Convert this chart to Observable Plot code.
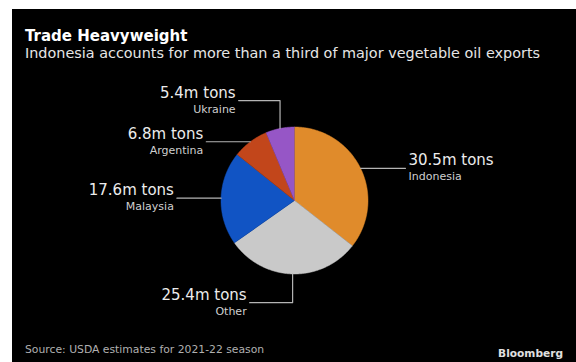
<!DOCTYPE html>
<html><head><meta charset="utf-8">
<script src="https://cdn.jsdelivr.net/npm/d3@7"></script>
<script src="https://cdn.jsdelivr.net/npm/@observablehq/plot@0.6"></script>
<style>
html,body{margin:0;padding:0;background:#fff;width:576px;height:362px;overflow:hidden;font-family:"DejaVu Sans",sans-serif;}
#panel{position:absolute;left:12px;top:9px;width:564px;height:353px;background:#000;}
.t{position:absolute;white-space:nowrap;line-height:1;}
#title{left:13px;top:20px;font-size:15px;font-weight:bold;color:#fff;}
#subtitle{left:13px;top:37px;font-size:14.4px;color:#e6e6e6;}
#source{left:13px;top:336px;font-size:10.8px;color:#b0b0b0;}
#brand{right:13px;top:339px;font-size:10.6px;font-weight:bold;color:#e0e0e0;}
#chart{position:absolute;left:0;top:62px;}
</style></head>
<body>
<div id="panel">
  <div class="t" id="title">Trade Heavyweight</div>
  <div class="t" id="subtitle">Indonesia accounts for more than a third of major vegetable oil exports</div>
  <div id="chart"></div>
  <div class="t" id="source">Source: USDA estimates for 2021-22 season</div>
  <div class="t" id="brand">Bloomberg</div>
</div>
<script>
// ---- data ----
const categories = ["Indonesia", "Other", "Malaysia", "Argentina", "Ukraine"];
const values = [30.5, 25.4, 17.6, 6.8, 5.4]; // million tons
const colors = ["#e08b2b", "#c9c9c9", "#1154c4", "#c2461b", "#9656c6"];

// ---- layout (in pie-radius units, origin at pie centre, y up) ----
const labelLayout = {
  Indonesia: {side: "right", level: null, end: 1.51},
  Other:     {side: "left",  level: -1.39, end: -0.61},
  Malaysia:  {side: "left",  level: null, end: -1.60},
  Argentina: {side: "left",  level: null, end: -1.20},
  Ukraine:   {side: "left",  level: 1.36, end: -0.76}
};
const W = 564, H = 262, cx = 282, cy = 129, R = 73.5;

const total = d3.sum(values);
const slices = [];
const leaders = [];
const labels = [];
let acc = 0;
categories.forEach((name, i) => {
  const a0 = acc / total * 2 * Math.PI;
  acc += values[i];
  const a1 = acc / total * 2 * Math.PI;
  const n = Math.max(2, Math.ceil((a1 - a0) / (Math.PI / 360)));
  slices.push({name, x: 0, y: 0});
  for (let k = 0; k <= n; k++) {
    const a = a0 + (a1 - a0) * k / n;
    slices.push({name, x: Math.sin(a), y: Math.cos(a)});
  }
  const am = (a0 + a1) / 2;
  const ex = Math.sin(am), ey = Math.cos(am);
  const L = labelLayout[name];
  const lv = L.level == null ? ey : L.level;
  leaders.push({name, x: ex, y: ey}, {name, x: ex, y: lv}, {name, x: L.end, y: lv});
  labels.push({name, side: L.side, x: L.end, y: lv, value: values[i].toFixed(1) + "m tons"});
});
const left = labels.filter(d => d.side === "left");
const right = labels.filter(d => d.side === "right");

const chart = Plot.plot({
  width: W, height: H, margin: 0,
  style: {background: "transparent", fontFamily: "DejaVu Sans, sans-serif"},
  x: {domain: [-1, 1], range: [cx - R, cx + R], axis: null},
  y: {domain: [-1, 1], range: [cy + R, cy - R], axis: null},
  color: {domain: categories, range: colors},
  marks: [
    Plot.line(slices, {x: "x", y: "y", z: "name", fill: "name", stroke: "name", strokeWidth: 0.5, curve: "linear"}),
    Plot.line(leaders, {x: "x", y: "y", z: "name", stroke: "#b4b4b4", strokeWidth: 1.2}),
    Plot.text(left, {x: "x", y: "y", text: "value", textAnchor: "end", lineAnchor: "bottom", dx: -3, dy: -3, fontSize: 15, fill: "#ececec"}),
    Plot.text(left, {x: "x", y: "y", text: "name", textAnchor: "end", lineAnchor: "bottom", dx: -3, dy: 12, fontSize: 11, fill: "#cfcfcf"}),
    Plot.text(right, {x: "x", y: "y", text: "value", textAnchor: "start", lineAnchor: "bottom", dx: 3, dy: -3, fontSize: 15, fill: "#ececec"}),
    Plot.text(right, {x: "x", y: "y", text: "name", textAnchor: "start", lineAnchor: "bottom", dx: 3, dy: 12, fontSize: 11, fill: "#cfcfcf"})
  ]
});
document.getElementById("chart").appendChild(chart);
</script>
</body></html>
